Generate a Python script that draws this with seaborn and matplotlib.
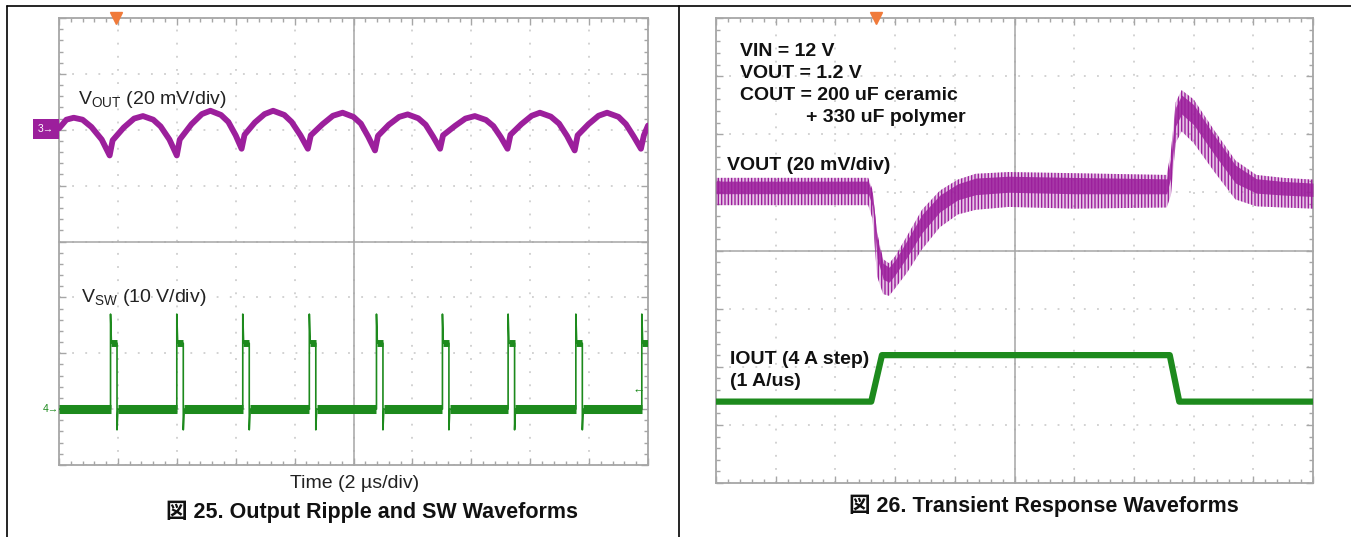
import numpy as np
import pandas as pd
import matplotlib
matplotlib.use("Agg")
import matplotlib.pyplot as plt
from matplotlib.ticker import MultipleLocator, NullFormatter
from matplotlib.lines import Line2D
import seaborn as sns

# ---------------- data ----------------
# Figure 25: output ripple (mV, AC) and switch node (V) vs time (us), 2 us/div
vout_t_us = [0.0, 0.25, 0.5, 0.8, 1.1, 1.45, 1.72,
             1.82, 2.2, 2.55, 2.85, 3.2, 3.45, 3.75, 4.00,
             4.10, 4.5, 4.85, 5.14, 5.5, 5.75, 6.0, 6.20,
             6.30, 6.65, 6.98, 7.27, 7.65, 7.9, 8.2, 8.45,
             8.55, 8.95, 9.3, 9.63, 10.0, 10.25, 10.5, 10.73,
             10.83, 11.2, 11.55, 11.84, 12.2, 12.45, 12.7, 12.94,
             13.04, 13.45, 13.8, 14.12, 14.5, 14.75, 15.0, 15.23,
             15.33, 15.7, 16.05, 16.33, 16.7, 16.98, 17.25, 17.51,
             17.61, 17.98, 18.32, 18.61, 19.0, 19.25, 19.52, 19.76,
             19.86, 20.0]
vout_ripple_mv = [0.5, 3.6, 4.3, 3.6, 1.0, -3.5, -9.2,
                  -3.8, 0.8, 4.0, 4.9, 3.6, 1.2, -3.5, -9.2,
                  -3.5, 2.0, 5.6, 6.8, 5.3, 2.8, -2.0, -6.8,
                  -1.8, 2.6, 5.6, 6.8, 5.3, 2.8, -2.0, -6.8,
                  -2.0, 2.0, 5.0, 6.1, 4.6, 2.2, -2.5, -7.4,
                  -2.2, 1.8, 4.6, 5.5, 4.1, 1.8, -2.4, -6.8,
                  -2.0, 1.4, 4.0, 4.9, 3.5, 1.3, -2.6, -6.8,
                  -1.8, 2.0, 5.0, 6.1, 4.7, 2.2, -2.2, -7.4,
                  -2.0, 2.0, 5.0, 6.1, 4.6, 2.0, -2.5, -6.8,
                  -2.0, 1.5]
sw_rise_us = [1.75, 4.00, 6.24, 8.50, 10.78, 13.02, 15.25, 17.55, 19.79]
sw_on_us = 0.22
sw_spike_v = 17.0
sw_high_v = 11.8
sw_undershoot_v = -3.7
sw_low_v = 0.0

# Figure 26: load transient, x in divisions
tr_x_div = [0.0, 2.55, 2.62, 2.70, 2.80, 2.90, 3.00, 3.20, 3.45, 3.75, 4.05, 4.35, 4.9,
            6.0, 7.55, 7.62, 7.70, 7.80, 8.00, 8.35, 8.70, 9.05, 9.5, 10.0]
tr_vout_hi_mv = [5, 5, 1, -14, -23, -24.4, -22, -15, -6, 0.6, 4.4, 6.4, 7,
                 6.6, 6, 14, 31, 35.2, 32, 21.2, 11, 6, 5, 4.4]
tr_vout_lo_mv = [-4.4, -4.4, -9, -29, -35, -35.6, -33, -27.6, -19.6, -12, -7.6, -6, -5,
                 -5.6, -5.2, -1, 17, 21, 17, 7, -2.4, -4.8, -5.2, -5.6]
iout_x_div = [0.0, 2.60, 2.78, 7.60, 7.76, 10.0]
iout_a = [2, 2, 6, 6, 2, 2]

# scope channel settings (scale per div, position in div)
L_VOUT_SCALE, L_VOUT_POS = 20.0, 2.0
L_VSW_SCALE, L_VSW_POS = 10.0, -3.0
R_VOUT_SCALE, R_VOUT_POS = 20.0, 1.0
R_IOUT_SCALE, R_IOUT_POS = 5.0, -3.0
TIME_PER_DIV = 2.0

# ---------------- style ----------------
sns.set_theme(style="white")
plt.rcParams["font.family"] = ["Liberation Sans", "Noto Sans CJK JP", "DejaVu Sans"]
plt.rcParams["mathtext.fontset"] = "custom"
plt.rcParams["mathtext.rm"] = "Liberation Sans"
plt.rcParams["mathtext.it"] = "Liberation Sans"
plt.rcParams["hatch.linewidth"] = 1.0

W, H = 1351, 537
fig = plt.figure(figsize=(W / 100, H / 100), dpi=100, facecolor="white")

PURPLE = "#9c1f9c"
GREEN = "#1d8a1d"
FRAME = "#a6a6a6"
GRIDC = "#c6c6c6"
ORANGE = "#f07a3a"


def fx(px):
    return px / W


def fy(py):
    return 1 - py / H


def scope_axes(x0, y0, x1, y1):
    rect = [fx(x0), fy(y1), fx(x1) - fx(x0), fy(y0) - fy(y1)]
    ax = fig.add_axes(rect)
    ax.set_xlim(0, 10)
    ax.set_ylim(-4, 4)
    for a in (ax.xaxis, ax.yaxis):
        a.set_major_locator(MultipleLocator(1))
        a.set_minor_locator(MultipleLocator(0.2))
        a.set_major_formatter(NullFormatter())
    ax.grid(which="major", color=GRIDC, linestyle=(0, (1.2, 7.4)), lw=1.1)
    ax.tick_params(which="both", direction="in", top=True, right=True, bottom=True,
                   left=True, color=FRAME, width=1.0)
    ax.tick_params(which="major", length=5)
    ax.tick_params(which="minor", length=3)
    for s in ax.spines.values():
        s.set_color(FRAME)
        s.set_linewidth(1.3)
    # centre cross axes
    axc = fig.add_axes(rect, facecolor="none")
    axc.set_xlim(0, 10)
    axc.set_ylim(-4, 4)
    axc.spines["left"].set_position(("data", 5))
    axc.spines["bottom"].set_position(("data", 0))
    axc.spines["top"].set_visible(False)
    axc.spines["right"].set_visible(False)
    for s in ("left", "bottom"):
        axc.spines[s].set_color(FRAME)
        axc.spines[s].set_linewidth(1.1)
    for a in (axc.xaxis, axc.yaxis):
        a.set_major_locator(MultipleLocator(1))
        a.set_minor_locator(MultipleLocator(0.2))
        a.set_major_formatter(NullFormatter())
    axc.tick_params(which="both", direction="inout", color=FRAME, width=1.0,
                    top=False, right=False)
    axc.tick_params(which="major", length=10)
    axc.tick_params(which="minor", length=6)
    axc.grid(False)
    return ax, axc


# ---------------- left panel ----------------
axL, axLc = scope_axes(59, 18, 648, 465)

xv = np.array(vout_t_us) / TIME_PER_DIV
yv = L_VOUT_POS + np.array(vout_ripple_mv) / L_VOUT_SCALE
sns.lineplot(x=xv, y=yv, ax=axLc, sort=False, estimator=None, color=PURPLE, lw=4.2,
             zorder=4)

# switch node trace assembled from pulse edges
sw_x, sw_y = [0.0], [sw_low_v]
for r in sw_rise_us:
    f = min(r + sw_on_us, 20.0)
    sw_x += [r, r, r + 0.03, f]
    sw_y += [sw_low_v, sw_spike_v, sw_high_v, sw_high_v]
    if r + sw_on_us < 20.0:
        sw_x += [f, f + 0.03]
        sw_y += [sw_undershoot_v, sw_low_v]
if sw_x[-1] < 20.0:
    sw_x.append(20.0)
    sw_y.append(sw_low_v)
sw_df = pd.DataFrame({"x": np.array(sw_x) / TIME_PER_DIV,
                      "y": L_VSW_POS + np.array(sw_y) / L_VSW_SCALE})
sns.lineplot(data=sw_df, x="x", y="y", ax=axLc, sort=False, estimator=None,
             color=GREEN, lw=1.2, zorder=4)
# thick (noisy) baseline and plateau segments
rises = np.array(sw_rise_us)
starts = np.concatenate([[0.0], rises[:-1] + sw_on_us + 0.03])
axLc.hlines(np.full(len(rises), L_VSW_POS + sw_low_v / L_VSW_SCALE),
            starts / TIME_PER_DIV, rises / TIME_PER_DIV,
            color=GREEN, lw=6.5, zorder=4)
axLc.hlines(np.full(len(rises), L_VSW_POS + sw_high_v / L_VSW_SCALE),
            (rises + 0.02) / TIME_PER_DIV,
            np.minimum(rises + sw_on_us, 20.0) / TIME_PER_DIV,
            color=GREEN, lw=5.0, zorder=4)

axLc.plot([0.97], [4.0], marker="v", ms=8, color=ORANGE, clip_on=False, zorder=6)

fig.text(fx(78), fy(100), r"V$_{\rm OUT}$ (20 mV/div)", fontsize=14, ha="left",
         va="center", color="#222222")
fig.text(fx(81), fy(297), r"V$_{\rm SW}$ (10 V/div)", fontsize=14, ha="left",
         va="center", color="#222222")
fig.text(fx(46), fy(129), "3\u2192", fontsize=7.5, ha="center", va="center",
         color="white",
         bbox=dict(boxstyle="square,pad=0.45", fc=PURPLE, ec="none"))
fig.text(fx(51), fy(409), "4\u2192", fontsize=7.5, ha="center", va="center",
         color=GREEN)
fig.text(fx(639), fy(391), "\u2190", fontsize=9, ha="center", va="center",
         color=GREEN)
fig.text(fx(355), fy(483), "Time (2 \u00b5s/div)", fontsize=14, ha="center",
         va="center", color="#222222")
fig.text(fx(372), fy(512), "図 25. Output Ripple and SW Waveforms", fontsize=15.5,
         fontweight="bold", ha="center", va="center", color="#111111")

# ---------------- right panel ----------------
axR, axRc = scope_axes(716, 18, 1313, 483)
xr = np.array(tr_x_div)
hi = R_VOUT_POS + np.array(tr_vout_hi_mv) / R_VOUT_SCALE
lo = R_VOUT_POS + np.array(tr_vout_lo_mv) / R_VOUT_SCALE
axRc.fill_between(xr, lo, hi, facecolor=(0.61, 0.12, 0.61, 0.25), edgecolor=PURPLE,
                  hatch="|||||", lw=0, zorder=3)
mid_hi = hi - (hi - lo) * 0.12
mid_lo = lo + (hi - lo) * 0.42
axRc.fill_between(xr, mid_lo, mid_hi, color=PURPLE, alpha=0.85, lw=0, zorder=3)

iout_df = pd.DataFrame({"x": iout_x_div,
                        "y": R_IOUT_POS + np.array(iout_a) / R_IOUT_SCALE})
sns.lineplot(data=iout_df, x="x", y="y", ax=axRc, sort=False, estimator=None,
             color=GREEN, lw=4.5, zorder=4)
axRc.plot([2.68], [4.0], marker="v", ms=8, color=ORANGE, clip_on=False, zorder=6)

for ax in (axLc, axRc):
    ax.set_xlabel("")
    ax.set_ylabel("")
    ax.set_xlim(0, 10)
    ax.set_ylim(-4, 4)

bold = dict(fontsize=14, fontweight="bold", ha="left", va="center", color="#111111")
fig.text(fx(740), fy(52), "VIN = 12 V", **bold)
fig.text(fx(740), fy(74), "VOUT = 1.2 V", **bold)
fig.text(fx(740), fy(96), "COUT = 200 uF ceramic", **bold)
fig.text(fx(806), fy(118), "+ 330 uF polymer", **bold)
fig.text(fx(727), fy(165), "VOUT (20 mV/div)", **bold)
fig.text(fx(730), fy(360), "IOUT (4 A step)", **bold)
fig.text(fx(730), fy(382), "(1 A/us)", **bold)
fig.text(fx(1044), fy(506), "図 26. Transient Response Waveforms", fontsize=15.5,
         fontweight="bold", ha="center", va="center", color="#111111")

# ---------------- outer table lines ----------------
for (x0, y0, x1, y1) in [(7, 6, 1351, 6), (7, 6, 7, 537), (679, 6, 679, 537)]:
    fig.add_artist(Line2D([fx(x0), fx(x1)], [fy(y0), fy(y1)], color="black", lw=1.2))

fig.savefig("out.png", dpi=100, facecolor="white")
